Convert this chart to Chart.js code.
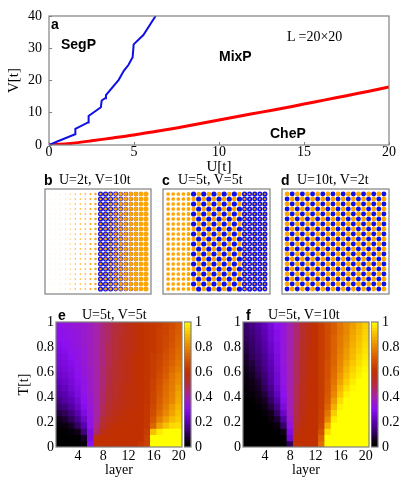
<!DOCTYPE html>
<html lang="en">
<head>
<meta charset="UTF-8">
<title>Phase diagram and layer maps</title>
<script src="https://cdn.jsdelivr.net/npm/chart.js"></script>
<style>
    html, body { margin: 0; background: #fff; }
    body { position: relative; width: 415px; height: 479px; overflow: hidden; filter: blur(0.35px); }
    canvas { position: absolute; }
    .note { position: absolute; white-space: nowrap; line-height: 1; color: #000; }
    .serif { font: 14px "Liberation Serif", serif; }
    .bold { font: bold 14px "Liberation Sans", sans-serif; }
</style>
</head>
<body>

<canvas id="phase" width="415" height="176" style="left:0;top:0"></canvas>
<canvas id="dotsB" width="114" height="113" style="left:41px;top:185px"></canvas>
<canvas id="dotsC" width="115" height="113" style="left:159px;top:185px"></canvas>
<canvas id="dotsD" width="115" height="113" style="left:278px;top:185px"></canvas>
<canvas id="mapE" width="200" height="179" style="left:0;top:300px"></canvas>
<canvas id="mapF" width="172" height="179" style="left:205px;top:300px"></canvas>
<canvas id="barE" width="30" height="179" style="left:184px;top:300px"></canvas>
<canvas id="barF" width="36" height="179" style="left:371px;top:300px"></canvas>

<div class="note bold" style="left:51px;top:16px">a</div>
<div class="note bold" style="left:61px;top:36px">SegP</div>
<div class="note bold" style="left:219px;top:48px">MixP</div>
<div class="note bold" style="left:270px;top:125px">CheP</div>
<div class="note serif" style="left:287px;top:29px">L =20×20</div>

<div class="note bold" style="left:44px;top:172px">b</div>
<div class="note serif" style="left:59px;top:172px">U=2t, V=10t</div>
<div class="note bold" style="left:162px;top:172px">c</div>
<div class="note serif" style="left:178px;top:172px">U=5t, V=5t</div>
<div class="note bold" style="left:281px;top:172px">d</div>
<div class="note serif" style="left:297px;top:172px">U=10t, V=2t</div>
<div class="note bold" style="left:58px;top:307px">e</div>
<div class="note serif" style="left:82px;top:307px">U=5t, V=5t</div>
<div class="note bold" style="left:246px;top:307px">f</div>
<div class="note serif" style="left:268px;top:307px">U=5t, V=10t</div>

<script>
    // Panel a: phase boundaries
    const segU = [0, 0.45, 1.53, 1.55, 2.3, 2.33, 3.05, 3.1, 3.3, 3.35, 4.1, 4.4, 4.67, 4.92, 4.98, 5.55, 6.27];
    const segV = [0, 1, 3.3, 5, 7, 9, 11.7, 13.8, 14.5, 15.5, 20.2, 23, 24.8, 27.2, 31.2, 34.1, 40];
    const cheU = [0, 1.25, 2.5, 3.75, 5, 6.25, 7.5, 8.75, 10, 11.25, 12.5, 13.75, 15, 16.25, 17.5, 18.75, 20];
    const cheV = [0, 0.5, 1.3, 2.2, 3.1, 4.2, 5.3, 6.5, 7.75, 9, 10.2, 11.4, 12.7, 14, 15.3, 16.6, 18];

    // Panels b, c, d: site occupation per layer, on even and odd sites
    const layers = [1, 2, 3, 4, 5, 6, 7, 8, 9, 10, 11, 12, 13, 14, 15, 16, 17, 18, 19, 20];
    const rows = [1, 2, 3, 4, 5, 6, 7, 8, 9, 10, 11, 12, 13, 14, 15, 16, 17, 18, 19, 20];

    const bBlueEven = [0, 0, 0, 0, 0, 0, 0, 0, 0, 0, 1, 1, 0.95, 0.9, 0.85, 0.8, 0.7, 0.7, 0.6, 0];
    const bBlueOdd = [0, 0, 0, 0, 0, 0, 0, 0, 0, 0, 0.95, 0.95, 0.9, 0.85, 0.8, 0.75, 0.7, 0.7, 0.6, 0];
    const bOrangeEven = [0.005, 0.01, 0.02, 0.03, 0.05, 0.07, 0.08, 0.1, 0.14, 0.2, 0.22, 0.26, 0.32, 0.4, 0.5, 0.56, 0.68, 0.76, 0.82, 0.95];
    const bOrangeOdd = [0.005, 0.01, 0.02, 0.03, 0.05, 0.07, 0.08, 0.1, 0.14, 0.22, 0.24, 0.3, 0.36, 0.44, 0.54, 0.6, 0.72, 0.78, 0.84, 0.95];

    const cBlueEven = [0, 0, 0, 0, 0, 1, 1, 1, 1, 1, 1, 1, 1, 1, 1, 1, 1, 1, 1, 1];
    const cBlueOdd = [0, 0, 0, 0, 0, 0, 0, 0, 0, 0, 0, 0, 0, 0, 0, 0.9, 0.9, 0.9, 0.9, 0.9];
    const cOrangeEven = [0.5, 0.5, 0.5, 0.5, 0.55, 0, 0, 0, 0, 0, 0, 0, 0, 0, 0, 0.14, 0.12, 0.12, 0.12, 0.12];
    const cOrangeOdd = [0.5, 0.5, 0.5, 0.5, 0.55, 0.7, 0.8, 0.8, 0.8, 0.8, 0.8, 0.8, 0.8, 0.8, 0.8, 0.22, 0.18, 0.18, 0.18, 0.18];

    const dBlueEven = [0.9, 0.9, 0.9, 0.9, 0.9, 0.9, 0.9, 0.9, 0.9, 0.9, 0.9, 0.9, 0.9, 0.9, 0.9, 0.9, 0.9, 0.9, 0.9, 0.9];
    const dBlueOdd = [0, 0, 0, 0, 0, 0, 0, 0, 0, 0, 0, 0, 0, 0, 0, 0, 0, 0, 0, 0];
    const dOrangeEven = [0, 0, 0, 0, 0, 0, 0, 0, 0, 0, 0, 0, 0, 0, 0, 0, 0, 0, 0, 0];
    const dOrangeOdd = [0.9, 0.9, 0.9, 0.9, 0.9, 0.9, 0.9, 0.9, 0.9, 0.9, 0.9, 0.9, 0.9, 0.9, 0.9, 0.9, 0.9, 0.9, 0.9, 0.9];

    // Panels e, f: one line per temperature row, top of the map first
    const tempRows = [0.95, 0.9, 0.85, 0.8, 0.75, 0.7, 0.65, 0.6, 0.55, 0.5, 0.45, 0.4, 0.35, 0.3, 0.25, 0.2, 0.15, 0.1, 0.05, 0];
    const tempStep = 0.05;

    const mapEValues = [
        [.31,.32,.33,.34,.35,.37,.40,.44,.47,.50,.53,.56,.58,.60,.61,.62,.63,.65,.67,.70],
        [.30,.31,.32,.33,.35,.37,.40,.44,.47,.50,.53,.56,.58,.60,.61,.62,.64,.65,.68,.71],
        [.30,.31,.32,.33,.35,.37,.40,.44,.47,.51,.54,.56,.58,.60,.61,.62,.64,.66,.68,.72],
        [.29,.30,.31,.33,.35,.37,.40,.44,.48,.51,.54,.56,.58,.60,.61,.62,.64,.66,.69,.73],
        [.28,.29,.31,.32,.34,.37,.40,.44,.48,.51,.54,.56,.58,.60,.61,.62,.64,.67,.70,.74],
        [.27,.28,.30,.32,.34,.37,.40,.44,.48,.51,.54,.57,.59,.60,.61,.63,.65,.68,.71,.75],
        [.26,.27,.29,.31,.34,.37,.40,.44,.48,.52,.55,.57,.59,.60,.61,.63,.65,.69,.72,.76],
        [.25,.26,.28,.31,.33,.36,.40,.45,.49,.52,.55,.57,.59,.60,.61,.63,.66,.70,.74,.78],
        [.24,.25,.27,.30,.33,.36,.40,.45,.49,.52,.55,.57,.59,.60,.61,.63,.67,.71,.76,.80],
        [.22,.24,.26,.29,.32,.36,.40,.45,.49,.53,.55,.57,.59,.60,.61,.64,.68,.73,.77,.81],
        [.20,.22,.25,.28,.32,.36,.40,.45,.50,.53,.56,.58,.59,.60,.61,.64,.69,.74,.78,.83],
        [.18,.20,.23,.27,.31,.35,.40,.46,.50,.53,.56,.58,.59,.60,.61,.65,.70,.75,.79,.85],
        [.15,.18,.21,.25,.30,.35,.40,.46,.51,.54,.56,.58,.59,.60,.61,.65,.71,.76,.80,.86],
        [.12,.14,.18,.23,.29,.34,.40,.47,.52,.55,.57,.58,.59,.60,.62,.66,.72,.78,.83,.88],
        [.08,.10,.14,.20,.27,.33,.40,.48,.53,.56,.58,.59,.60,.60,.62,.67,.74,.80,.85,.90],
        [.05,.07,.10,.16,.24,.32,.41,.50,.55,.57,.59,.59,.60,.60,.62,.69,.78,.84,.89,.92],
        [.02,.03,.06,.11,.20,.31,.43,.52,.57,.59,.60,.60,.60,.60,.62,.73,.84,.90,.94,.95],
        [0,.01,.02,.05,.14,.28,.46,.56,.59,.60,.60,.60,.60,.60,.63,.90,.97,1,1,1],
        [0,0,0,.01,.06,.28,.58,.60,.60,.60,.60,.60,.60,.60,.64,1,1,1,1,1],
        [0,0,0,0,.02,.30,.60,.60,.60,.60,.60,.60,.60,.62,.64,1,1,1,1,1]
    ];

    const mapFValues = [
        [.12,.15,.18,.22,.26,.30,.33,.39,.45,.52,.57,.60,.63,.67,.71,.76,.80,.84,.88,.92],
        [.11,.14,.17,.21,.25,.29,.33,.39,.45,.52,.57,.60,.63,.67,.71,.76,.80,.85,.89,.93],
        [.10,.13,.16,.20,.25,.29,.33,.39,.45,.52,.57,.60,.63,.67,.72,.77,.81,.86,.90,.94],
        [.09,.12,.15,.19,.24,.28,.33,.39,.46,.53,.57,.60,.63,.67,.72,.77,.82,.87,.91,.95],
        [.08,.11,.14,.18,.23,.28,.33,.39,.46,.53,.58,.60,.63,.67,.72,.78,.83,.88,.92,.96],
        [.07,.10,.13,.17,.22,.27,.33,.39,.46,.53,.58,.60,.63,.67,.73,.79,.84,.89,.94,.97],
        [.06,.08,.12,.16,.21,.27,.33,.39,.47,.54,.58,.60,.63,.68,.73,.80,.86,.91,.95,.98],
        [.05,.07,.10,.15,.20,.26,.32,.39,.47,.54,.58,.60,.63,.68,.74,.81,.88,.93,.97,.99],
        [.04,.06,.09,.13,.19,.25,.32,.39,.47,.54,.58,.60,.63,.68,.75,.83,.90,.95,.98,1],
        [.03,.05,.07,.12,.18,.25,.32,.39,.47,.55,.59,.60,.63,.69,.76,.85,.92,.97,1,1],
        [.02,.04,.06,.10,.16,.24,.31,.39,.48,.55,.59,.60,.63,.69,.78,.88,.95,.99,1,1],
        [.01,.02,.05,.08,.14,.22,.30,.39,.48,.55,.59,.60,.63,.70,.80,.91,.98,1,1,1],
        [0,.01,.03,.06,.11,.19,.29,.38,.48,.56,.59,.60,.63,.71,.83,.95,1,1,1,1],
        [0,0,.01,.04,.08,.15,.27,.38,.49,.56,.59,.60,.63,.73,.87,.98,1,1,1,1],
        [0,0,0,.02,.05,.11,.24,.37,.49,.56,.60,.60,.64,.76,.92,1,1,1,1,1],
        [0,0,0,0,.03,.07,.18,.35,.50,.57,.60,.60,.64,.80,.97,1,1,1,1,1],
        [0,0,0,0,.01,.03,.12,.32,.52,.58,.60,.60,.65,.87,1,1,1,1,1,1],
        [0,0,0,0,0,.01,.05,.28,.55,.60,.60,.60,.68,.95,1,1,1,1,1,1],
        [0,0,0,0,0,0,.01,.25,.59,.60,.60,.60,.72,1,1,1,1,1,1,1],
        [0,0,0,0,0,0,0,.10,.60,.60,.60,.60,.75,1,1,1,1,1,1,1]
    ];

    const layerTicks = [4, 8, 12, 16, 20];
    const barLevels = [0, .025, .05, .075, .1, .125, .15, .175, .2, .225, .25, .275, .3, .325, .35, .375, .4, .425, .45, .475,
                       .5, .525, .55, .575, .6, .625, .65, .675, .7, .725, .75, .775, .8, .825, .85, .875, .9, .925, .95, .975];
    const barStep = 0.025;

    // Colour stops of the map: value, r, g, b
    const colourStops = [
        [0, 0, 0, 0], [0.05, 16, 0, 24], [0.1, 48, 0, 90], [0.2, 90, 0, 176], [0.3, 140, 16, 240],
        [0.4, 165, 35, 170], [0.5, 180, 45, 60], [0.6, 192, 48, 0], [0.7, 214, 88, 0],
        [0.8, 232, 136, 0], [0.9, 248, 192, 0], [1, 255, 255, 0]
    ];

    const BLUE = '#0f0fe6';
    const ORANGE = '#ffa500';
    const FRAME = '#808080';
    const SERIF = 'Liberation Serif';

    function colourFor(v) {
        for (let i = 1; i < colourStops.length; i++) {
            const a = colourStops[i - 1], b = colourStops[i];
            if (v <= b[0]) {
                const t = (v - a[0]) / (b[0] - a[0]);
                return `rgb(${a[1] + t * (b[1] - a[1])},${a[2] + t * (b[2] - a[2])},${a[3] + t * (b[3] - a[3])})`;
            }
        }
        return 'rgb(255,255,0)';
    }

    // Grey box round the plot area
    const framePlugin = {
        id: 'frame',
        afterDatasetsDraw(chart) {
            const { ctx, chartArea: a } = chart;
            ctx.save();
            ctx.strokeStyle = FRAME;
            ctx.lineWidth = 1.2;
            ctx.strokeRect(a.left, a.top, a.right - a.left, a.bottom - a.top);
            ctx.restore();
        }
    };

    const baseOptions = {
        responsive: false,
        animation: false,
        plugins: { legend: { display: false }, tooltip: { enabled: false } }
    };

    const plainNumber = v => String(+v.toFixed(1));

    function zip(xs, ys) {
        return xs.map((x, i) => ({ x: x, y: ys[i] }));
    }

    // Panel a
    new Chart(document.getElementById('phase'), {
        type: 'scatter',
        plugins: [framePlugin],
        data: {
            datasets: [
                { data: zip(segU, segV), showLine: true, borderColor: BLUE, borderWidth: 2, pointRadius: 0 },
                { data: zip(cheU, cheV), showLine: true, borderColor: '#ff0000', borderWidth: 3, pointRadius: 0, tension: 0.3 }
            ]
        },
        options: {
            ...baseOptions,
            layout: { padding: { top: 16, right: 26 } },
            scales: {
                x: {
                    min: 0, max: 20,
                    afterFit: s => { s.height = 31; },
                    grid: { drawOnChartArea: false, tickLength: -3, color: FRAME },
                    border: { display: false },
                    ticks: { stepSize: 5, padding: 2, maxRotation: 0, color: '#000', font: { family: SERIF, size: 14 } },
                    title: { display: true, text: 'U[t]', color: '#000', padding: 0, font: { family: SERIF, size: 15 } }
                },
                y: {
                    min: 0, max: 40,
                    // big tick padding would otherwise push the plot top down
                    afterFit: s => { s.width = 49; s.paddingTop = 0; s.paddingBottom = 0; },
                    grid: { drawOnChartArea: false, tickLength: -3, color: FRAME },
                    border: { display: false },
                    ticks: { stepSize: 10, padding: 10, color: '#000', font: { family: SERIF, size: 14 } },
                    title: { display: true, text: 'V[t]', color: '#000', padding: { top: 5, bottom: 0 }, font: { family: SERIF, size: 15 } }
                }
            }
        }
    });

    // Panels b, c, d
    function siteData(evens, odds) {
        const out = [];
        layers.forEach((layer, i) => {
            rows.forEach(row => {
                out.push({ x: layer, y: row, n: (layer + row) % 2 === 0 ? evens[i] : odds[i] });
            });
        });
        return out;
    }

    function dotChart(id, blueEven, blueOdd, orangeEven, orangeOdd) {
        const radius = c => 2.6 * Math.sqrt(c.raw.n);
        new Chart(document.getElementById(id), {
            type: 'scatter',
            plugins: [framePlugin],
            data: {
                // first dataset is painted last, so orange sits on top of blue
                datasets: [
                    { data: siteData(orangeEven, orangeOdd), backgroundColor: ORANGE, borderWidth: 0, pointRadius: radius },
                    { data: siteData(blueEven, blueOdd), backgroundColor: BLUE, borderWidth: 0, pointRadius: radius }
                ]
            },
            options: {
                ...baseOptions,
                layout: { padding: 1 },
                scales: {
                    x: { display: false, min: 0, max: 21 },
                    y: { display: false, min: 0, max: 21 }
                }
            }
        });
    }

    dotChart('dotsB', bBlueEven, bBlueOdd, bOrangeEven, bOrangeOdd);
    dotChart('dotsC', cBlueEven, cBlueOdd, cOrangeEven, cOrangeOdd);
    dotChart('dotsD', dBlueEven, dBlueOdd, dOrangeEven, dOrangeOdd);

    // Panels e, f: every row is one dataset of floating bars
    function mapDatasets(values) {
        return values.map((row, r) => ({
            data: layers.map(layer => ({ x: layer, y: [tempRows[r], tempRows[r] + tempStep] })),
            backgroundColor: row.map(colourFor),
            borderWidth: 0,
            inflateAmount: 0.5,
            barPercentage: 1,
            categoryPercentage: 1
        }));
    }

    function mapChart(id, values, yTitle, plotLeft, plotWidth, canvasWidth) {
        new Chart(document.getElementById(id), {
            type: 'bar',
            plugins: [framePlugin],
            data: { datasets: mapDatasets(values) },
            options: {
                ...baseOptions,
                layout: { padding: { top: 22, right: canvasWidth - plotLeft - plotWidth } },
                scales: {
                    x: {
                        type: 'linear', stacked: true, offset: false, min: 0.5, max: 20.5,
                        afterFit: s => { s.height = 32; },
                        afterBuildTicks: s => { s.ticks = layerTicks.map(v => ({ value: v })); },
                        grid: { display: false, drawTicks: false, offset: false },
                        border: { display: false },
                        ticks: { padding: 1, maxRotation: 0, color: '#000', font: { family: SERIF, size: 14 } },
                        title: { display: true, text: 'layer', color: '#000', padding: 0, font: { family: SERIF, size: 14 } }
                    },
                    y: {
                        stacked: false, min: 0, max: 1,
                        afterFit: s => { s.width = plotLeft; },
                        grid: { display: false, drawTicks: false },
                        border: { display: false },
                        ticks: { stepSize: 0.2, padding: 2, color: '#000', callback: plainNumber, font: { family: SERIF, size: 14 } },
                        title: { display: !!yTitle, text: yTitle, color: '#000', padding: { top: 16, bottom: 0 }, font: { family: SERIF, size: 14 } }
                    }
                }
            }
        });
    }

    mapChart('mapE', mapEValues, 'T[t]', 56, 126, 200);
    mapChart('mapF', mapFValues, '', 38, 126, 172);

    // Colour bars
    function colourBar(id, canvasWidth) {
        new Chart(document.getElementById(id), {
            type: 'bar',
            plugins: [framePlugin],
            data: {
                labels: ['v'],
                datasets: barLevels.map(v => ({
                    data: [[v, v + barStep]],
                    backgroundColor: colourFor(v + barStep / 2),
                    borderWidth: 0,
                    inflateAmount: 0.5,
                    barPercentage: 1,
                    categoryPercentage: 1
                }))
            },
            options: {
                ...baseOptions,
                layout: { padding: { top: 22, bottom: 32, left: 0 } },
                scales: {
                    x: { display: false, stacked: true },
                    y: {
                        position: 'right', stacked: false, min: 0, max: 1,
                        afterFit: s => { s.width = canvasWidth - 7; },
                        grid: { display: false, drawTicks: false },
                        border: { display: false },
                        ticks: { stepSize: 0.2, padding: 4, color: '#000', callback: plainNumber, font: { family: SERIF, size: 14 } }
                    }
                }
            }
        });
    }

    colourBar('barE', 30);
    colourBar('barF', 36);
</script>
</body>
</html>
